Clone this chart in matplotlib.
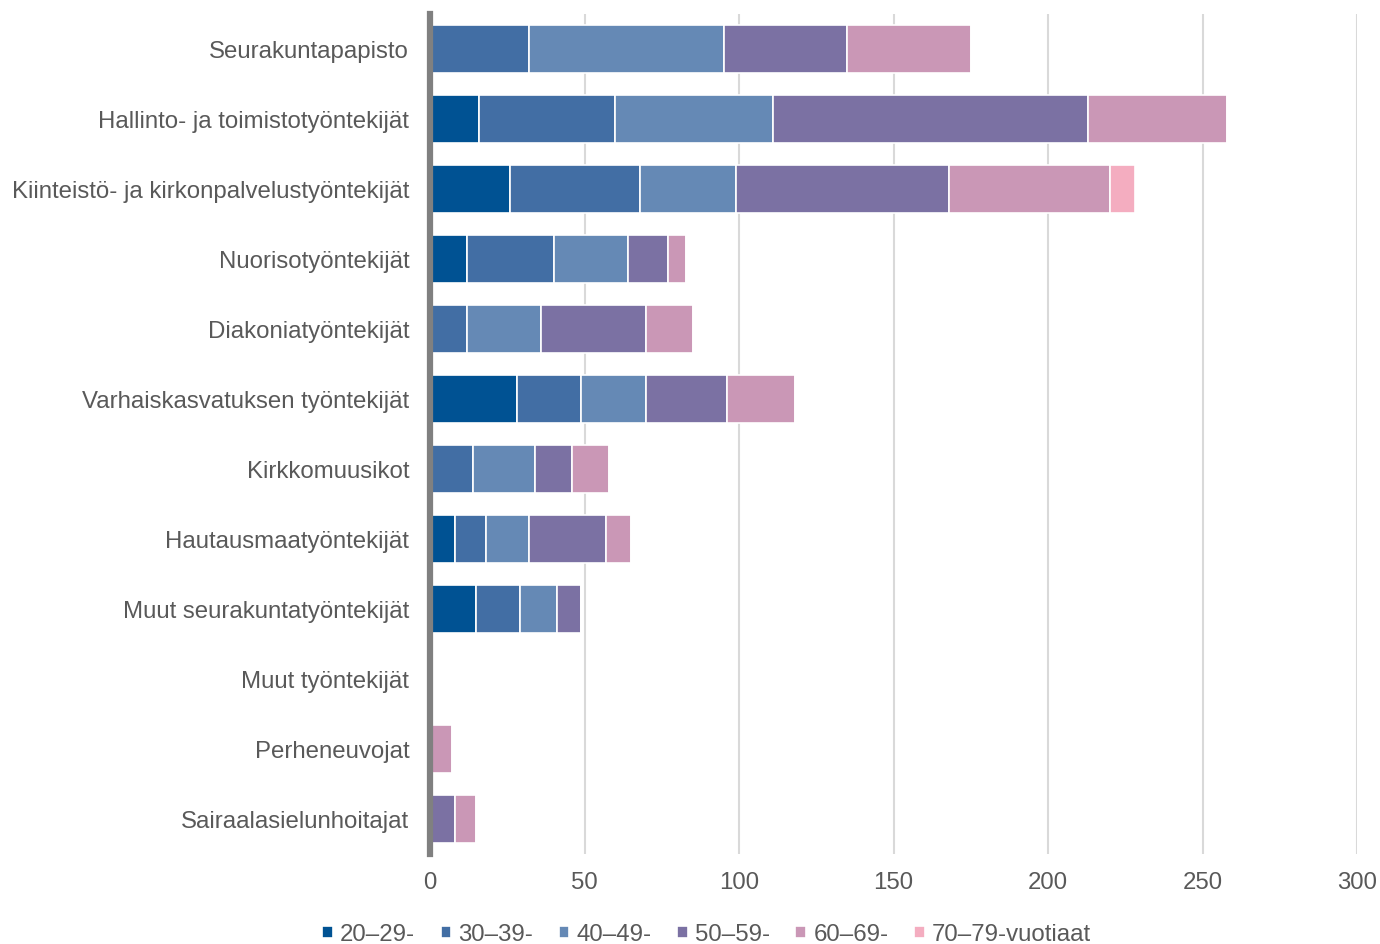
import numpy as np
import matplotlib.pyplot as plt

plt.rcParams['font.family'] = ['Liberation Sans', 'DejaVu Sans']

categories = ["Seurakuntapapisto", "Hallinto- ja toimistotyöntekijät",
              "Kiinteistö- ja kirkonpalvelustyöntekijät", "Nuorisotyöntekijät",
              "Diakoniatyöntekijät", "Varhaiskasvatuksen työntekijät",
              "Kirkkomuusikot", "Hautausmaatyöntekijät",
              "Muut seurakuntatyöntekijät", "Muut työntekijät",
              "Perheneuvojat", "Sairaalasielunhoitajat"]

age_groups = ["20–29-", "30–39-", "40–49-", "50–59-", "60–69-", "70–79-vuotiaat"]

a20 = [0, 16, 26, 12, 0, 28, 0, 8, 15, 0, 0, 0]
a30 = [32, 44, 42, 28, 12, 21, 14, 10, 14, 0, 0, 0]
a40 = [63, 51, 31, 24, 24, 21, 20, 14, 12, 0, 0, 0]
a50 = [40, 102, 69, 13, 34, 26, 12, 25, 8, 0, 0, 8]
a60 = [40, 45, 52, 6, 15, 22, 12, 8, 0, 0, 7, 7]
a70 = [0, 0, 8, 0, 0, 0, 0, 0, 0, 0, 0, 0]

colors = ["#005293", "#426ea4", "#6589b5", "#7b71a3", "#ca97b6", "#f4adc0"]

series = [a20, a30, a40, a50, a60, a70]

fig = plt.figure(figsize=(13.8, 9.44), dpi=100)
ax = fig.add_axes([430 / 1380, 1 - 854 / 944, (1357 - 430) / 1380, (854 - 14) / 944])

y = np.arange(len(categories))
left = np.zeros(len(categories))
for vals, col, lab in zip(series, colors, age_groups):
    vals = np.array(vals, dtype=float)
    ax.barh(y, vals, left=left, height=0.68, color=col, edgecolor='white',
            linewidth=1.2, label=lab, zorder=3)
    left += vals

ax.set_ylim(len(categories) - 0.5, -0.5)
ax.set_xlim(0, 300)
ax.set_xticks(range(0, 301, 50))
ax.set_yticks(y)
ax.set_yticklabels(categories)
ax.tick_params(axis='both', length=0, labelsize=17.3, colors='#595959')
ax.tick_params(axis='x', pad=13)
ax.tick_params(axis='y', pad=15)
ax.grid(axis='x', color='#d9d9d9', linewidth=1.5, zorder=0)

for s in ['top', 'right', 'bottom']:
    ax.spines[s].set_visible(False)
ax.spines['left'].set_color('#808080')
ax.spines['left'].set_linewidth(4.5)
ax.spines['left'].set_zorder(4)

fig.legend(loc='center', bbox_to_anchor=(0.512, 0.010), ncol=6, frameon=False,
           fontsize=17.3, labelcolor='#595959', handlelength=0.45, handleheight=0.45,
           handletextpad=0.3, columnspacing=1.05)

fig.savefig('out.png', dpi=100)
